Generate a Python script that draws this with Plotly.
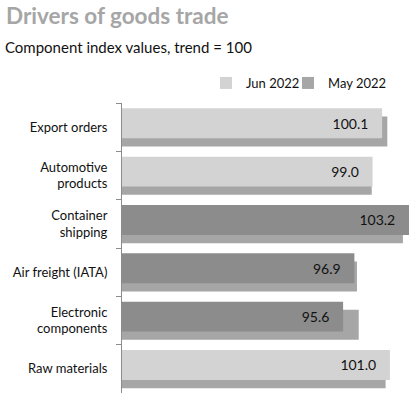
import plotly.graph_objects as go

categories = ["Export orders", "Automotive<br>products", "Container<br>shipping",
              "Air freight (IATA)", "Electronic<br>components", "Raw materials"]
jun_2022 = [100.1, 99.0, 103.2, 96.9, 95.6, 101.0]
may_2022 = [100.7, 98.9, 102.5, 97.2, 97.4, 100.5]
jun_colors = ["#d3d3d3", "#d3d3d3", "#8c8c8c", "#8c8c8c", "#8c8c8c", "#d3d3d3"]
may_color = "#a6a6a6"

FONT = "Lato"
L, R, T, B = 122, 2, 103, 0
PW, PH = 411 - L - R, 393 - T - B

fig = go.Figure()
fig.add_trace(go.Bar(
    y=categories, x=may_2022, orientation="h", name="May 2022",
    marker=dict(color=may_color, line=dict(width=0)),
    width=0.62, offset=-0.22, legend="legend2", hoverinfo="skip",
))
fig.add_trace(go.Bar(
    y=categories, x=jun_2022, orientation="h", name="Jun 2022",
    marker=dict(color=jun_colors, line=dict(width=0)),
    width=0.62, offset=-0.39, legend="legend",
    texttemplate="%{x:.1f}&nbsp;&nbsp;&nbsp;", textposition="inside",
    insidetextanchor="end", textangle=0,
    textfont=dict(color="#111111", size=14, family=FONT),
    cliponaxis=False,
))

legend_common = dict(orientation="h", xanchor="left", yanchor="middle",
                     y=1 + (T - 83) / PH, itemwidth=30,
                     font=dict(size=13, color="#111111", family=FONT),
                     bgcolor="rgba(0,0,0,0)")

fig.update_layout(
    width=411, height=393,
    margin=dict(l=L, r=R, t=T, b=B, autoexpand=False),
    barmode="overlay",
    paper_bgcolor="white", plot_bgcolor="white",
    font=dict(family=FONT, size=13, color="#111111"),
    showlegend=True,
    legend=dict(x=(246 - 40 - L) / PW, **legend_common),
    legend2=dict(x=(328 - 40 - L) / PW, **legend_common),
    xaxis=dict(range=[70.1, 103.2], visible=False, showgrid=False, zeroline=False),
    yaxis=dict(range=[5.5, -0.5], showline=True, linecolor="#8c8c8c", linewidth=1,
               ticks="outside", ticklen=5, tickcolor="#8c8c8c", tickson="boundaries",
               showgrid=False, tickfont=dict(size=13, color="#111111", family=FONT),
               ticklabelstandoff=11),
    annotations=[
        dict(text="<b>Drivers of goods trade</b>", xref="paper", yref="paper",
             x=-(L - 4) / PW, y=1 + (T - 16) / PH, xanchor="left", yanchor="middle",
             showarrow=False, font=dict(size=22.5, color="#a6a6a6", family=FONT)),
        dict(text="Component index values, trend = 100", xref="paper", yref="paper",
             x=-(L - 3) / PW, y=1 + (T - 47) / PH, xanchor="left", yanchor="middle",
             showarrow=False, font=dict(size=15, color="#111111", family=FONT)),
    ],
)

fig.write_html("out.html", config={"displayModeBar": False},
               post_script="document.body.style.margin='0';document.body.style.overflow='hidden';")
